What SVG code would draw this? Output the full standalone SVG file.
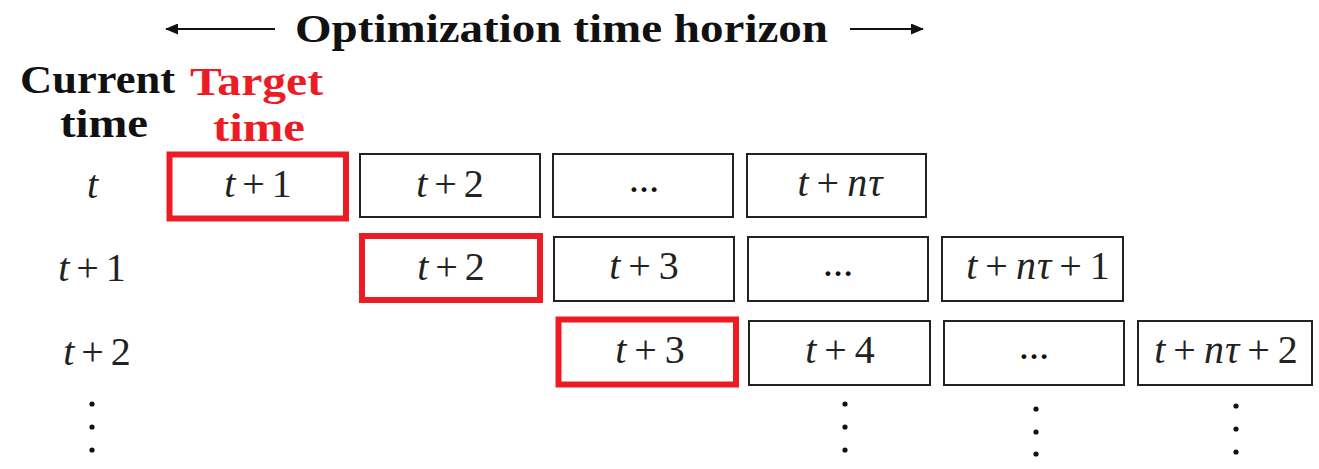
<svg xmlns="http://www.w3.org/2000/svg" width="1319" height="469" viewBox="0 0 1319 469">
<style>
.bg{fill:#fff}
.box{fill:#fff;stroke:#222;stroke-width:2}
.rbox{fill:#fff;stroke:#ED1C24;stroke-width:6}
.m{font-family:"Liberation Serif",serif;font-size:40px;fill:#222;text-anchor:middle}
.m .i{font-style:italic}
.hd{font-family:"Liberation Serif",serif;font-weight:bold;font-size:39px;fill:#111}
.red{fill:#ED1C24}
.dots{font-family:"Liberation Serif",serif;font-weight:bold;font-size:30px;fill:#111;text-anchor:middle}
.arr{stroke:#111;stroke-width:2;fill:none}
.vd{fill:#111}
</style>
<defs>
<marker id="ah" markerWidth="13" markerHeight="11" refX="12" refY="5.5" orient="auto" markerUnits="userSpaceOnUse">
<path d="M0,0 L13,5.5 L0,11 Z" fill="#111"/>
</marker>
</defs>
<rect class="bg" x="0" y="0" width="1319" height="469"/>
<g id="connectors">
<line class="arr" x1="275" y1="29" x2="166" y2="29" marker-end="url(#ah)"/>
<line class="arr" x1="850" y1="29" x2="923" y2="29" marker-end="url(#ah)"/>
</g>
<g id="title">
<text class="hd" x="295" y="42" textLength="533" lengthAdjust="spacingAndGlyphs">Optimization time horizon</text>
</g>
<g id="current-time">
<text class="hd" x="20" y="93" textLength="155" lengthAdjust="spacingAndGlyphs">Current</text>
<text class="hd" x="60" y="137" textLength="88" lengthAdjust="spacingAndGlyphs">time</text>
</g>
<g id="target-time">
<text class="hd red" x="190" y="95" textLength="133" lengthAdjust="spacingAndGlyphs">Target</text>
<text class="hd red" x="213" y="141" textLength="92" lengthAdjust="spacingAndGlyphs">time</text>
</g>
<g id="row-labels">
<text class="m" x="92.5" y="198"><tspan class="i">t</tspan></text>
<text class="m" x="92" y="281"><tspan class="i">t</tspan><tspan dx="7">+</tspan><tspan dx="7">1</tspan></text>
<text class="m" x="97" y="365"><tspan class="i">t</tspan><tspan dx="7">+</tspan><tspan dx="7">2</tspan></text>
</g>
<g id="left-vdots">
<circle class="vd" cx="92" cy="404" r="2.6"/>
<circle class="vd" cx="92" cy="427" r="2.6"/>
<circle class="vd" cx="92" cy="450" r="2.6"/>
</g>
<g id="r1c1">
<rect class="rbox" x="169.5" y="154.5" width="176.5" height="64"/>
<text class="m" x="258" y="197"><tspan class="i">t</tspan><tspan dx="7">+</tspan><tspan dx="7">1</tspan></text>
</g>
<g id="r1c2">
<rect class="box" x="360" y="154" width="180" height="63"/>
<text class="m" x="450" y="197"><tspan class="i">t</tspan><tspan dx="7">+</tspan><tspan dx="7">2</tspan></text>
</g>
<g id="r1c3">
<rect class="box" x="553" y="154" width="180" height="63"/>
<text class="dots" x="644" y="192">…</text>
</g>
<g id="r1c4">
<rect class="box" x="747" y="154" width="179" height="63"/>
<text class="m" x="840" y="196"><tspan class="i">t</tspan><tspan dx="8">+</tspan><tspan class="i" dx="8">n</tspan><tspan class="i" dx="1">τ</tspan></text>
</g>
<g id="r2c2">
<rect class="rbox" x="362" y="236" width="178" height="64"/>
<text class="m" x="451" y="280"><tspan class="i">t</tspan><tspan dx="7">+</tspan><tspan dx="7">2</tspan></text>
</g>
<g id="r2c3">
<rect class="box" x="554" y="237" width="180" height="64"/>
<text class="m" x="644" y="279"><tspan class="i">t</tspan><tspan dx="8">+</tspan><tspan dx="8">3</tspan></text>
</g>
<g id="r2c4">
<rect class="box" x="748" y="237" width="180" height="64"/>
<text class="dots" x="838" y="276">…</text>
</g>
<g id="r2c5">
<rect class="box" x="942" y="237" width="181" height="64"/>
<text class="m" x="1038" y="279"><tspan class="i">t</tspan><tspan dx="8">+</tspan><tspan class="i" dx="8">n</tspan><tspan class="i" dx="1">τ</tspan><tspan dx="8">+</tspan><tspan dx="8">1</tspan></text>
</g>
<g id="r3c3">
<rect class="rbox" x="558.5" y="319.5" width="177.5" height="65"/>
<text class="m" x="650" y="363"><tspan class="i">t</tspan><tspan dx="8">+</tspan><tspan dx="8">3</tspan></text>
</g>
<g id="r3c4">
<rect class="box" x="749" y="321" width="181" height="64"/>
<text class="m" x="840" y="363"><tspan class="i">t</tspan><tspan dx="8">+</tspan><tspan dx="8">4</tspan></text>
</g>
<g id="r3c5">
<rect class="box" x="944" y="321" width="180" height="64"/>
<text class="dots" x="1034" y="359">…</text>
</g>
<g id="r3c6">
<rect class="box" x="1138" y="321" width="174" height="64"/>
<text class="m" x="1226" y="363"><tspan class="i">t</tspan><tspan dx="8">+</tspan><tspan class="i" dx="8">n</tspan><tspan class="i" dx="1">τ</tspan><tspan dx="8">+</tspan><tspan dx="8">2</tspan></text>
</g>
<g id="col-vdots">
<circle class="vd" cx="845" cy="404" r="2.6"/>
<circle class="vd" cx="845" cy="427" r="2.6"/>
<circle class="vd" cx="845" cy="450" r="2.6"/>
<circle class="vd" cx="1036" cy="409" r="2.6"/>
<circle class="vd" cx="1036" cy="432" r="2.6"/>
<circle class="vd" cx="1036" cy="454" r="2.6"/>
<circle class="vd" cx="1236" cy="406" r="2.6"/>
<circle class="vd" cx="1236" cy="429" r="2.6"/>
<circle class="vd" cx="1236" cy="452" r="2.6"/>
</g>
</svg>
